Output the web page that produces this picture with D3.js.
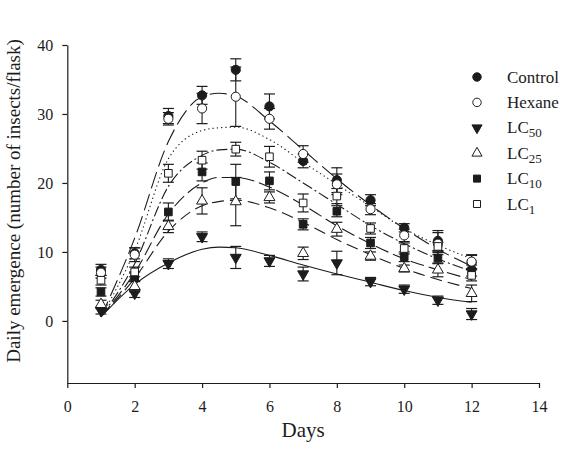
<!DOCTYPE html>
<html><head><meta charset="utf-8">
<script src="https://cdn.jsdelivr.net/npm/d3@7"></script>
<style>body{margin:0;background:#fff} svg{display:block}</style>
</head><body><svg id="c" width="564" height="452"></svg>
<script>
// ---- data ----
const days = [1,2,3,4,5,6,7,8,9,10,11,12];
const seriesNames = ["Control","Hexane","LC50","LC25","LC10","LC1"];
const controlMean = [7.4, 9.8, 29.7, 32.7, 36.4, 31.1, 23.2, 20.4, 17.5, 13.5, 11.6, 8.5];
const controlErr  = [0.8, 0.8, 1.1, 1.3, 1.6, 1.8, 1.0, 1.8, 0.8, 0.6, 1.5, 1.0];
const hexaneMean  = [7.0, 9.6, 29.3, 30.8, 32.5, 29.3, 24.2, 19.8, 16.2, 12.4, 11.2, 8.6];
const hexaneErr   = [0.8, 1.0, 0.9, 2.2, 4.3, 1.5, 1.2, 1.5, 0.8, 0.9, 1.6, 1.0];
const lc50Mean    = [1.5, 4.0, 8.3, 12.2, 9.2, 8.7, 6.8, 8.4, 5.7, 4.6, 3.0, 1.0];
const lc50Err     = [0.5, 0.6, 0.7, 0.7, 1.6, 0.8, 1.0, 1.7, 0.6, 0.6, 0.6, 0.8];
const lc25Mean    = [2.4, 5.0, 13.7, 17.4, 17.3, 17.9, 9.8, 13.3, 9.4, 7.6, 7.4, 4.0];
const lc25Err     = [0.6, 0.8, 0.9, 1.9, 3.5, 0.8, 0.9, 1.0, 0.6, 0.5, 1.0, 1.2];
const lc10Mean    = [4.2, 6.4, 15.8, 21.6, 20.2, 20.3, 14.0, 15.9, 11.3, 9.3, 9.1, 7.3];
const lc10Err     = [0.6, 0.7, 1.3, 1.3, 2.5, 1.3, 0.8, 0.8, 0.8, 0.7, 0.8, 0.8];
const lc1Mean     = [5.9, 7.1, 21.4, 23.3, 24.9, 23.8, 17.1, 18.1, 13.4, 10.5, 10.8, 6.6];
const lc1Err      = [0.7, 0.7, 1.3, 1.3, 1.0, 1.5, 1.3, 1.1, 0.8, 0.8, 0.6, 0.8];

const curveDays  = [1, 2, 3, 4, 4.5, 5, 6, 7, 8, 9, 10, 11, 12];
const controlFit = [0.6, 12.0, 26.0, 32.5, 33.0, 32.6, 29.0, 24.8, 20.6, 16.8, 13.4, 10.4, 7.9];
const hexaneFit  = [0.6, 10.2, 23.5, 27.6, 28.0, 28.1, 26.3, 23.0, 19.8, 16.6, 13.4, 11.0, 9.0];
const lc1Fit     = [0.6, 8.3, 19.5, 24.0, 24.8, 24.9, 23.0, 20.0, 16.9, 13.8, 11.2, 9.0, 7.2];
const lc10Fit    = [0.6, 7.0, 15.5, 20.0, 20.8, 20.8, 19.4, 16.8, 13.8, 11.2, 9.0, 7.4, 6.0];
const lc25Fit    = [0.6, 6.2, 13.0, 16.7, 17.3, 17.5, 16.4, 14.3, 11.8, 9.6, 7.6, 6.0, 4.7];
const lc50Fit    = [0.6, 5.3, 8.4, 10.4, 10.7, 10.6, 9.5, 8.1, 6.8, 5.6, 4.4, 3.4, 2.7];

const xTicks = [0, 2, 4, 6, 8, 10, 12, 14];
const yTicks = [0, 10, 20, 30, 40];
const xTitle = "Days";
const yTitle = "Daily emergence (number of insects/flask)";

// ---- drawing ----
const svg = d3.select("#c");
const FONT = "Liberation Serif, Times New Roman, serif";
const INK = "#1c1c1c";
const x = d3.scaleLinear().domain([0, 14]).range([67.3, 539]);
const y = d3.scaleLinear().domain([-9, 40]).range([383, 45]);

const series = [
  {name: seriesNames[0], mean: controlMean, err: controlErr, fit: controlFit, sym: "circle", fill: INK, dash: "17,6"},
  {name: seriesNames[1], mean: hexaneMean, err: hexaneErr, fit: hexaneFit, sym: "circle", fill: "#fff", dash: "1.3,3"},
  {name: seriesNames[2], mean: lc50Mean, err: lc50Err, fit: lc50Fit, sym: "tri-down", fill: INK, dash: null},
  {name: seriesNames[3], mean: lc25Mean, err: lc25Err, fit: lc25Fit, sym: "tri-up", fill: "#fff", dash: "12,6"},
  {name: seriesNames[4], mean: lc10Mean, err: lc10Err, fit: lc10Fit, sym: "square", fill: INK, dash: "14,5"},
  {name: seriesNames[5], mean: lc1Mean, err: lc1Err, fit: lc1Fit, sym: "square", fill: "#fff", dash: "11,3,2,3"}
];

// axes
const gx = svg.append("g").attr("transform", `translate(0,${y(-9)})`)
  .call(d3.axisBottom(x).tickValues(xTicks).tickSize(5).tickSizeOuter(0).tickPadding(13));
const gy = svg.append("g").attr("transform", `translate(${x(0)},0)`)
  .call(d3.axisLeft(y).tickValues(yTicks).tickSize(5).tickSizeOuter(0).tickPadding(9));
[gx, gy].forEach(g => {
  g.attr("font-family", FONT);
  g.select(".domain").attr("stroke", INK).attr("stroke-width", 1.2);
  g.selectAll(".tick line").attr("stroke", INK).attr("stroke-width", 1.2);
  g.selectAll(".tick text").attr("font-family", FONT).attr("font-size", 16).attr("fill", INK);
});
gy.selectAll(".tick text").attr("dy", "0.34em");

svg.append("text").attr("x", (x(0) + x(14)) / 2).attr("y", 437)
  .attr("text-anchor", "middle").attr("font-family", FONT).attr("font-size", 21).attr("fill", INK).text(xTitle);
svg.append("text").attr("transform", `translate(20,201) rotate(-90)`)
  .attr("text-anchor", "middle").attr("font-family", FONT).attr("font-size", 19).attr("fill", INK).text(yTitle);

// fitted curves
const line = d3.line().x(d => x(d[0])).y(d => y(d[1])).curve(d3.curveMonotoneX);
series.forEach(s => {
  svg.append("path").datum(curveDays.map((d, i) => [d, s.fit[i]]))
    .attr("d", line).attr("fill", "none").attr("stroke", INK).attr("stroke-width", 1.1)
    .attr("stroke-dasharray", s.dash);
});

function symPath(sym, size) {
  if (sym === "circle") return d3.symbol(d3.symbolCircle, size)();
  if (sym === "square") return d3.symbol(d3.symbolSquare, size)();
  return d3.symbol(d3.symbolTriangle, size)();
}
function drawMarker(g, s, cx, cy, scale) {
  const size = (s.sym === "circle" ? 66 : s.sym === "square" ? 58 : 52) * scale;
  g.append("path").attr("d", symPath(s.sym, size))
    .attr("transform", `translate(${cx},${cy})` + (s.sym === "tri-down" ? " rotate(180)" : ""))
    .attr("fill", s.fill).attr("stroke", INK).attr("stroke-width", 1);
}

// error bars
const cap = 5.5;
series.forEach(s => {
  const g = svg.append("g");
  days.forEach((d, i) => {
    const cx = x(d), y1 = y(s.mean[i] + s.err[i]), y2 = y(s.mean[i] - s.err[i]);
    g.append("line").attr("x1", cx).attr("x2", cx).attr("y1", y1).attr("y2", y2).attr("stroke", INK).attr("stroke-width", 1.1);
    [y1, y2].forEach(yy => g.append("line").attr("x1", cx - cap).attr("x2", cx + cap).attr("y1", yy).attr("y2", yy).attr("stroke", INK).attr("stroke-width", 1.2));
  });
});
// markers
series.forEach(s => {
  const g = svg.append("g");
  days.forEach((d, i) => drawMarker(g, s, x(d), y(s.mean[i]), 1));
});

// legend
const lg = svg.append("g");
series.forEach((s, i) => {
  const ly = 77 + i * 25.4;
  drawMarker(lg, s, 477, ly, 0.85);
  const m = s.name.match(/^(LC)(\d+)$/);
  const t = lg.append("text").attr("x", 507).attr("y", ly + 5.5)
    .attr("font-family", FONT).attr("font-size", 17).attr("fill", INK);
  if (m) {
    t.append("tspan").text(m[1]);
    t.append("tspan").attr("font-size", 13).attr("dy", 4).text(m[2]);
  } else t.text(s.name);
});
</script>
</body></html>
